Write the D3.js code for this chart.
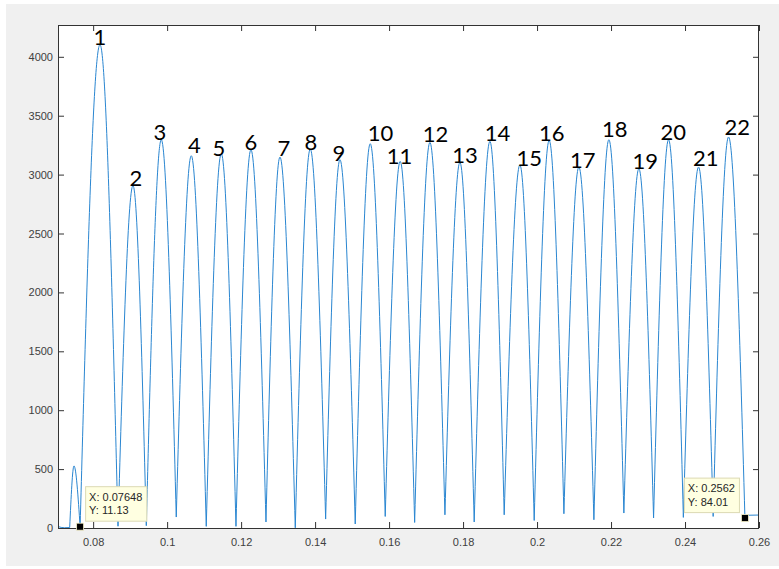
<!DOCTYPE html>
<html>
<head>
<meta charset="utf-8">
<script src="https://cdn.jsdelivr.net/npm/d3@7/dist/d3.min.js"></script>
<style>
  html, body { margin: 0; padding: 0; background: #ffffff; }
  svg { display: block; }
</style>
</head>
<body>
<svg id="chart" width="779" height="569"></svg>
<script>
// ---- data ----
const xTicks = [0.08, 0.1, 0.12, 0.14, 0.16, 0.18, 0.2, 0.22, 0.24, 0.26];
const xTickLabels = ["0.08", "0.1", "0.12", "0.14", "0.16", "0.18", "0.2", "0.22", "0.24", "0.26"];
const yTicks = [0, 500, 1000, 1500, 2000, 2500, 3000, 3500, 4000];
const yTickLabels = ["0", "500", "1000", "1500", "2000", "2500", "3000", "3500", "4000"];

// leading flat part before the small bump
const leadX = [0.0705, 0.0722, 0.07366];
const leadY = [12, 2, 4];
// small bump before peak 1
const bumpX = 0.07482;
const bumpY = 527;

// troughs between lobes (first = datatip 1, last = datatip 2)
const dipX = [0.07648, 0.08672, 0.09437, 0.10247, 0.11058, 0.11861, 0.12672, 0.13464,
              0.14285, 0.15085, 0.15896, 0.16691, 0.17510, 0.18301, 0.19112, 0.19923,
              0.20726, 0.21537, 0.22347, 0.23150, 0.23955, 0.24761, 0.2562];
const dipY = [11.13, 15, 20, 93, 14, 14, 51, 2, 76, 34, 98, 47, 112, 51, 112, 64,
              121, 70, 127, 85, 90, 98, 84.01];

// numbered peaks 1..22
const peakX = [0.08185, 0.09077, 0.09842, 0.10653, 0.11464, 0.12266, 0.13050, 0.13869,
               0.14672, 0.15491, 0.16301, 0.17104, 0.17915, 0.18726, 0.19537, 0.20328,
               0.21131, 0.21942, 0.22753, 0.23555, 0.24366, 0.25177];
const peakY = [4103, 2906, 3296, 3160, 3177, 3211, 3149, 3217, 3126, 3262, 3112, 3273,
               3104, 3282, 3082, 3290, 3064, 3296, 3050, 3296, 3064, 3319];
const peakNames = ["1","2","3","4","5","6","7","8","9","10","11","12","13","14","15",
                   "16","17","18","19","20","21","22"];

// trailing flat part
const tailX = [0.2562, 0.2566, 0.26];
const tailY = [84.01, 108, 110];

// annotation anchors for the numbers (data units: centre x, baseline y)
const labelX = [0.08185, 0.09158, 0.09807, 0.10739, 0.11401, 0.12266, 0.13158, 0.13888,
                0.14645, 0.15766, 0.16280, 0.17253, 0.18050, 0.18928, 0.19793, 0.20401,
                0.21239, 0.22104, 0.22923, 0.23680, 0.24564, 0.25415];
const labelY = [4096, 2906, 3292, 3186, 3160, 3211, 3160, 3211, 3118, 3288, 3093, 3279,
                3101, 3288, 3076, 3288, 3059, 3322, 3050, 3297, 3076, 3339];

// data tips
const tipX = [0.07648, 0.2562];
const tipY = [11.13, 84.01];
const tipXText = ["0.07648", "0.2562"];
const tipYText = ["11.13", "84.01"];

// ---- layout ----
const W = 779, H = 569;
const L = 58, R = 759, T = 25, B = 528;

const svg = d3.select("#chart");

svg.append("rect").attr("x", 6).attr("y", 4).attr("width", W - 6).attr("height", 562)
  .attr("fill", "#f0f0f0");
svg.append("rect").attr("x", L).attr("y", T).attr("width", R - L).attr("height", B - T)
  .attr("fill", "#ffffff");

const x = d3.scaleLinear().domain([0.0705, 0.26]).range([L, R]);
const y = d3.scaleLinear().domain([0, 4270]).range([B, T]);

const axisColor = "#333333";
const font = "'Liberation Sans', Arial, Helvetica, sans-serif";

function styleAxis(g, showLabels) {
  g.select(".domain").remove();
  g.selectAll(".tick line").attr("stroke", axisColor).attr("stroke-width", 1);
  g.selectAll(".tick text").attr("fill", "#404040").attr("font-size", 11)
    .attr("font-family", font);
  if (!showLabels) g.selectAll(".tick text").remove();
}

svg.append("g").attr("transform", `translate(0,${B})`)
  .call(d3.axisBottom(x).tickValues(xTicks).tickFormat((d, i) => xTickLabels[i])
        .tickSize(-6).tickPadding(10))
  .call(g => styleAxis(g, true));
svg.append("g").attr("transform", `translate(0,${T})`)
  .call(d3.axisTop(x).tickValues(xTicks).tickSize(-6))
  .call(g => styleAxis(g, false));
svg.append("g").attr("transform", `translate(${L},0)`)
  .call(d3.axisLeft(y).tickValues(yTicks).tickFormat((d, i) => yTickLabels[i])
        .tickSize(-6).tickPadding(5))
  .call(g => styleAxis(g, true));
svg.append("g").attr("transform", `translate(${R},0)`)
  .call(d3.axisRight(y).tickValues(yTicks).tickSize(-6))
  .call(g => styleAxis(g, false));

// ---- curve ----
const line = d3.line().x(d => x(d[0])).y(d => y(d[1])).curve(d3.curveMonotoneX);
let dStr = line(leadX.map((v, i) => [v, leadY[i]]));
// bump lobe
dStr += line([[leadX[leadX.length - 1], leadY[leadY.length - 1]], [bumpX, bumpY], [dipX[0], dipY[0]]]);
// numbered lobes
peakX.forEach((px, i) => {
  dStr += line([[dipX[i], dipY[i]], [px, peakY[i]], [dipX[i + 1], dipY[i + 1]]]);
});
dStr += d3.line().x(d => x(d[0])).y(d => y(d[1]))(tailX.map((v, i) => [v, tailY[i]]));

svg.append("path").attr("d", dStr).attr("fill", "none")
  .attr("stroke", "#2a86d1").attr("stroke-width", 1).attr("stroke-linejoin", "round");

// axes box
svg.append("rect").attr("x", L + 0.5).attr("y", T + 0.5)
  .attr("width", R - L - 1).attr("height", B - T)
  .attr("fill", "none").attr("stroke", axisColor).attr("stroke-width", 1);

// ---- peak numbers ----
svg.append("g").selectAll("text").data(peakNames).join("text")
  .attr("x", (d, i) => x(labelX[i]))
  .attr("y", (d, i) => y(labelY[i]))
  .attr("text-anchor", "middle")
  .attr("font-family", "Lato, 'Open Sans', sans-serif")
  .attr("font-size", 22)
  .attr("fill", "#000000")
  .text(d => d);

// ---- data tips ----
tipX.forEach((tx, i) => {
  const cx = x(tx), cy = y(tipY[i]);
  const g = svg.append("g");
  const t1 = g.append("text").attr("font-family", font).attr("font-size", 11)
    .attr("fill", "#262626").text("X: " + tipXText[i]);
  const t2 = g.append("text").attr("font-family", font).attr("font-size", 11)
    .attr("fill", "#262626").text("Y: " + tipYText[i]);
  const tw = Math.max(t1.node().getComputedTextLength(), t2.node().getComputedTextLength());
  const bw = tw + 8, bh = 34.5;
  const right = cx > (L + R) / 2;
  const bx = right ? cx - 6 - bw : cx + 5;
  const by = cy - 6 - bh;
  g.insert("rect", "text").attr("x", bx + 0.5).attr("y", by + 0.5)
    .attr("width", bw).attr("height", bh)
    .attr("fill", "#ffffe1").attr("stroke", "#dcdab4").attr("stroke-width", 1);
  t1.attr("x", bx + 4).attr("y", by + 14.5);
  t2.attr("x", bx + 4).attr("y", by + 28);
  svg.append("rect").attr("x", cx - 3.5).attr("y", cy - 3.5).attr("width", 7).attr("height", 7)
    .attr("fill", "#000000").attr("stroke", "#f5f0c8").attr("stroke-width", 0.8);
});
</script>
</body>
</html>
